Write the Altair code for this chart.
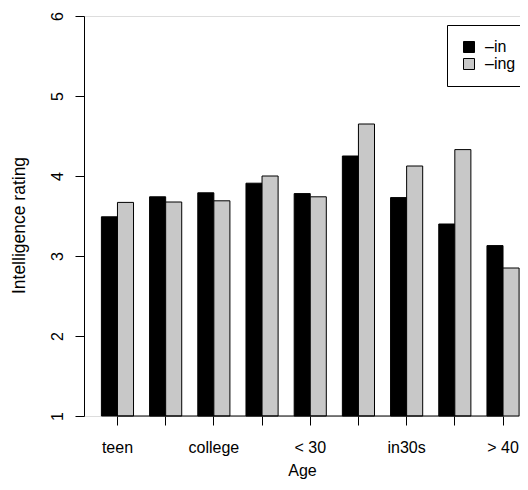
import altair as alt
import pandas as pd

# ---- data ----
groups = [0, 1, 2, 3, 4, 5, 6, 7, 8]
group_labels = ["teen", "", "college", "", "< 30", "", "in30s", "", "> 40"]
series = ["\u2013in", "\u2013ing"]
in_values = [3.49, 3.74, 3.79, 3.91, 3.78, 4.25, 3.73, 3.40, 3.13]
ing_values = [3.67, 3.675, 3.69, 4.00, 3.74, 4.65, 4.125, 4.33, 2.85]
y_ticks = [1, 2, 3, 4, 5, 6]
y_domain = [1, 6]
bar_colors = ["#000000", "#C8C8C8"]

rows = []
for g, a, b in zip(groups, in_values, ing_values):
    rows.append({"group": g, "series": series[0], "value": a})
    rows.append({"group": g, "series": series[1], "value": b})
df = pd.DataFrame(rows)

axis_df = pd.DataFrame({"start": [groups[0]], "end": [groups[-1]], "base": [y_domain[0]]})

FONT = "Liberation Sans"
label_expr = "[" + ",".join("'" + s + "'" for s in group_labels) + "][datum.value]"

x_scale = alt.Scale(paddingInner=1 / 3, paddingOuter=0.19, align=0.95)

bars = alt.Chart(df).mark_bar(stroke="black", strokeWidth=1).encode(
    x=alt.X(
        "group:O",
        scale=x_scale,
        axis=alt.Axis(
            title="Age",
            labelExpr=label_expr,
            domain=False,
            ticks=True,
            tickSize=9,
            tickColor="black",
            tickWidth=1,
            labelAngle=0,
            labelFontSize=16,
            labelFont=FONT,
            labelColor="black",
            labelBaseline="alphabetic",
            labelPadding=27,
            labelOverlap=False,
            titleFontSize=16,
            titleFont=FONT,
            titleFontWeight="normal",
            titleColor="black",
            titleY=59,
            titleBaseline="alphabetic",
            grid=False,
        ),
    ),
    xOffset=alt.XOffset("series:N", scale=alt.Scale(domain=series, paddingInner=0, paddingOuter=0)),
    y=alt.Y(
        "value:Q",
        scale=alt.Scale(domain=y_domain, zero=False, nice=False),
        axis=alt.Axis(
            title="Intelligence rating",
            values=y_ticks,
            format="d",
            tickSize=9,
            tickColor="black",
            domainColor="black",
            labelAngle=270,
            labelAlign="center",
            labelBaseline="alphabetic",
            labelPadding=13,
            labelFontSize=16,
            labelFont=FONT,
            labelColor="black",
            labelOverlap=False,
            titleAngle=270,
            titleX=-65,
            titleY=209,
            titleAlign="center",
            titleBaseline="middle",
            titleFontSize=17.5,
            titleFont=FONT,
            titleFontWeight="normal",
            titleColor="black",
            grid=False,
        ),
    ),
    y2=alt.datum(y_domain[0]),
    color=alt.Color(
        "series:N",
        scale=alt.Scale(domain=series, range=bar_colors),
        legend=alt.Legend(
            title=None,
            orient="none",
            legendX=363,
            legendY=9,
            direction="vertical",
            strokeColor="black",
            fillColor="white",
            padding=14,
            symbolType="square",
            symbolSize=121,
            symbolStrokeColor="black",
            symbolStrokeWidth=1,
            symbolOpacity=1,
            labelFontSize=16,
            labelFont=FONT,
            labelColor="black",
            labelOffset=8,
            rowPadding=1,
        ),
    ),
)

axis_line = alt.Chart(axis_df).mark_rule(color="black", strokeWidth=1).encode(
    x=alt.X("start:O", scale=x_scale),
    x2="end:O",
    y=alt.Y("base:Q"),
)

chart = (
    alt.layer(bars, axis_line)
    .properties(
        width=436,
        height=400,
        padding={"left": 76, "top": 8, "right": 0, "bottom": 64},
        autosize=alt.AutoSizeParams(type="none"),
    )
    .configure_view(strokeWidth=0)
    .configure(font=FONT)
)

chart.save("out.html", embed_options={"renderer": "svg", "actions": False})
